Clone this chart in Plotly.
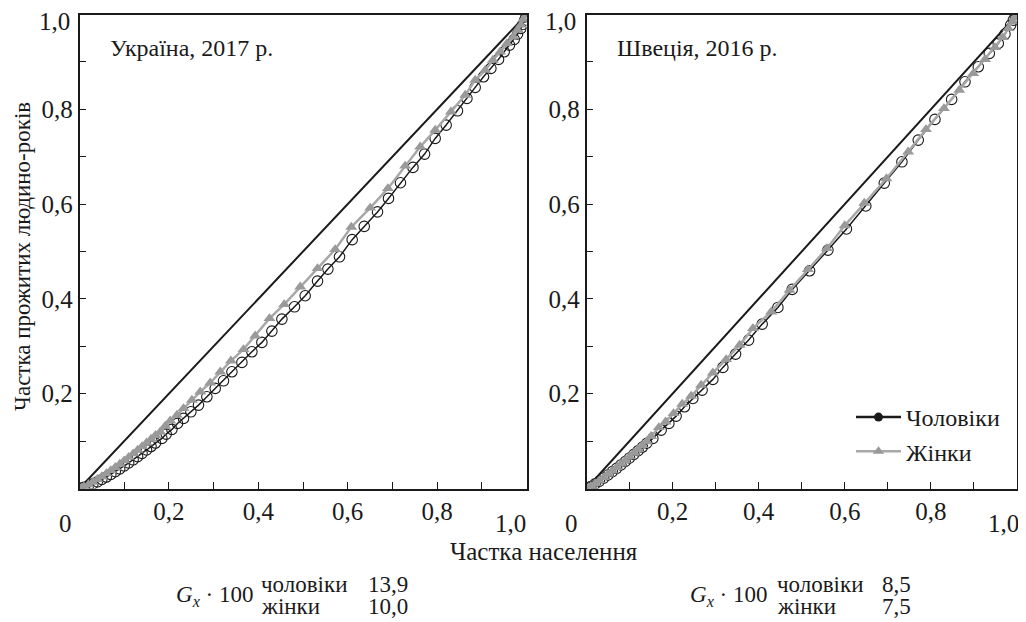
import plotly.graph_objects as go

# ---------------- data ----------------
ua_men_x = [0, 0.005, 0.01, 0.02, 0.03, 0.04, 0.05, 0.06, 0.07, 0.08, 0.09, 0.10, 0.11, 0.12, 0.13, 0.14, 0.15, 0.16, 0.17,
            0.1843, 0.194, 0.2067, 0.2192, 0.2327, 0.2492, 0.2662, 0.285, 0.3036, 0.3222, 0.341, 0.3633, 0.3857, 0.408,
            0.4304, 0.4528, 0.481, 0.5049, 0.5325, 0.5557, 0.5817, 0.61, 0.637, 0.6667, 0.6913, 0.718, 0.746, 0.772,
            0.7957, 0.8203, 0.8456, 0.8667, 0.8852, 0.9038, 0.9203, 0.9374, 0.9501, 0.962, 0.9725, 0.9799, 0.9875,
            0.992, 0.996, 0.999, 1.0]
ua_men_y = [0, 0.0009, 0.0023, 0.0057, 0.0097, 0.0141, 0.019, 0.0242, 0.0297, 0.0354, 0.0413, 0.0475, 0.0539, 0.0605, 0.0673, 0.0742, 0.0813, 0.0885, 0.0959,
            0.1057, 0.1148, 0.1247, 0.1373, 0.1479, 0.1618, 0.176, 0.1935, 0.2112, 0.2272, 0.2462, 0.266, 0.2884, 0.3082,
            0.3321, 0.3574, 0.3833, 0.4066, 0.4376, 0.4629, 0.4888, 0.525, 0.553, 0.5835, 0.612, 0.645, 0.6774, 0.7055,
            0.7386, 0.7667, 0.7968, 0.823, 0.8462, 0.8686, 0.8863, 0.9053, 0.9213, 0.9354, 0.9475, 0.9586, 0.9707,
            0.979, 0.988, 0.995, 1.0]

ua_women_x = [0, 0.005, 0.01, 0.02, 0.03, 0.04, 0.05, 0.06, 0.07, 0.08, 0.09, 0.10, 0.11, 0.12, 0.13, 0.14, 0.15, 0.16, 0.17,
              0.1805, 0.1917, 0.2029, 0.2179, 0.2327, 0.2514, 0.27, 0.2924, 0.3148, 0.3387, 0.3669, 0.393, 0.425, 0.458,
              0.4938, 0.5325, 0.572, 0.608, 0.6503, 0.69, 0.7286, 0.7622, 0.7957, 0.8309, 0.8629, 0.8852, 0.9076, 0.9248,
              0.9412, 0.9562, 0.9709, 0.9799, 0.9875, 0.9933, 1.0]
ua_women_y = [0, 0.0015, 0.0036, 0.0084, 0.0136, 0.0193, 0.0252, 0.0315, 0.038, 0.0447, 0.0516, 0.0588, 0.066, 0.0735, 0.081, 0.0887, 0.0965, 0.1043, 0.1122,
              0.1196, 0.1316, 0.1428, 0.1549, 0.169, 0.1865, 0.204, 0.223, 0.2462, 0.2694, 0.2935, 0.3222, 0.3589, 0.3884,
              0.4255, 0.4643, 0.5044, 0.5515, 0.592, 0.633, 0.6805, 0.7209, 0.7561, 0.7947, 0.83, 0.8616, 0.8827, 0.9038,
              0.9213, 0.939, 0.953, 0.9671, 0.978, 0.99, 1.0]

se_men_x = [0, 0.005, 0.01, 0.02, 0.03, 0.04, 0.05, 0.06, 0.07, 0.08, 0.09, 0.10, 0.11, 0.12, 0.13, 0.14,
            0.1541, 0.1734, 0.1913, 0.2082, 0.2277, 0.247, 0.2686, 0.2935, 0.3168, 0.3463, 0.3765, 0.4081, 0.4446,
            0.4778, 0.5182, 0.5608, 0.6038, 0.6488, 0.6917, 0.7327, 0.7706, 0.8094, 0.8482, 0.8792, 0.9101, 0.9356,
            0.9565, 0.9721, 0.9853, 0.9914, 0.996, 1.0]
se_men_y = [0, 0.0019, 0.0042, 0.0097, 0.0156, 0.022, 0.0286, 0.0355, 0.0425, 0.0497, 0.057, 0.0645, 0.072, 0.0797, 0.0875, 0.0955,
            0.1057, 0.1232, 0.1373, 0.1527, 0.1724, 0.19, 0.2076, 0.2302, 0.2555, 0.2835, 0.3131, 0.3468, 0.382,
            0.42, 0.4593, 0.503, 0.5476, 0.596, 0.6443, 0.6892, 0.735, 0.7787, 0.8209, 0.858, 0.8897, 0.9179,
            0.939, 0.9586, 0.9776, 0.988, 0.995, 1.0]

se_women_x = [0, 0.005, 0.01, 0.02, 0.03, 0.04, 0.05, 0.06, 0.07, 0.08, 0.09, 0.10, 0.11, 0.12, 0.13, 0.14,
              0.1501, 0.168, 0.1836, 0.2022, 0.2222, 0.2431, 0.2663, 0.2935, 0.3244, 0.3556, 0.3865, 0.429, 0.4718,
              0.5143, 0.5585, 0.5998, 0.6453, 0.6968, 0.7471, 0.7885, 0.8303, 0.8659, 0.8984, 0.9256, 0.9489, 0.9668,
              0.9798, 0.99, 0.996, 1.0]
se_women_y = [0, 0.0021, 0.0047, 0.0106, 0.0168, 0.0234, 0.0302, 0.0372, 0.0444, 0.0518, 0.0593, 0.067, 0.0748, 0.0828, 0.0908, 0.099,
              0.1100, 0.1289, 0.1407, 0.1584, 0.1781, 0.1949, 0.2181, 0.2441, 0.2724, 0.3025, 0.3378, 0.3728, 0.4186,
              0.4622, 0.5065, 0.5547, 0.6021, 0.654, 0.7103, 0.7576, 0.8019, 0.8405, 0.8757, 0.9053, 0.9306, 0.9517,
              0.9707, 0.985, 0.994, 1.0]

equality_x = [0, 1]
equality_y = [0, 1]

panel_titles = ["Україна, 2017 р.", "Швеція, 2016 р."]
series_names = ["Чоловіки", "Жінки"]
gini_values = [["13,9", "10,0"], ["8,5", "7,5"]]
gini_labels = ["чоловіки", "жінки"]

x_tick_vals = [0.1, 0.2, 0.3, 0.4, 0.5, 0.6, 0.7, 0.8, 0.9]
x_tick_text = ["", "0,2", "", "0,4", "", "0,6", "", "0,8", ""]
x_edge_labels = ["0", "1,0"]
y_tick_vals = [0.1, 0.2, 0.3, 0.4, 0.5, 0.6, 0.7, 0.8, 0.9]
y_tick_text = ["", "0,2", "", "0,4", "", "0,6", "", "0,8", ""]
y_edge_label = "1,0"

# ---------------- style ----------------
FONT = "Liberation Serif"
OFF = 8                      # page body margin
W, H = 1026 - OFF, 622 - OFF
BLACK = "#1a1a1a"
GRAY_LINE = "#a8a8a8"
GRAY_MARK = "#9a9a9a"

# pixel geometry of panels (screen pixels)
L1, R1 = 79.5, 526.5
L2, R2 = 586.5, 1017
TOP, BOT = 14.5, 488.5


def px(x):
    return (x - OFF) / W


def py(y):
    return 1 - (y - OFF) / H


fig = go.Figure()

panels = [
    ("x", "y", ua_men_x, ua_men_y, ua_women_x, ua_women_y),
    ("x2", "y2", se_men_x, se_men_y, se_women_x, se_women_y),
]
for xa, ya, mx, my, wx, wy in panels:
    fig.add_trace(go.Scatter(x=equality_x, y=equality_y, xaxis=xa, yaxis=ya, mode="lines",
                             line=dict(color=BLACK, width=2), showlegend=False, hoverinfo="skip"))
    fig.add_trace(go.Scatter(x=mx, y=my, xaxis=xa, yaxis=ya, mode="lines+markers",
                             line=dict(color=BLACK, width=1.5),
                             marker=dict(symbol="circle-open", size=10.5, color=BLACK, line=dict(width=1.1)),
                             showlegend=False))
    fig.add_trace(go.Scatter(x=wx, y=wy, xaxis=xa, yaxis=ya, mode="lines+markers",
                             line=dict(color=GRAY_LINE, width=2.5),
                             marker=dict(symbol="triangle-up", size=10.5, color=GRAY_MARK),
                             showlegend=False))

# legend-only traces
fig.add_trace(go.Scatter(x=[None], y=[None], xaxis="x2", yaxis="y2", mode="lines+markers", name=series_names[0],
                         line=dict(color=BLACK, width=2.5), marker=dict(symbol="circle", size=9, color=BLACK)))
fig.add_trace(go.Scatter(x=[None], y=[None], xaxis="x2", yaxis="y2", mode="lines+markers", name=series_names[1],
                         line=dict(color=GRAY_LINE, width=2.5), marker=dict(symbol="triangle-up", size=10, color=GRAY_MARK)))

axis_common = dict(range=[0, 1], showline=True, linecolor=BLACK, linewidth=1.5, mirror=True, automargin=False,
                   ticks="inside", ticklen=7, tickcolor=BLACK, tickwidth=1.2, showgrid=False, zeroline=False,
                   tickfont=dict(family=FONT, size=25, color=BLACK))

ydom = [py(BOT), py(TOP)]
fig.update_layout(
    width=W, height=H,
    margin=dict(l=0, r=0, t=0, b=0, autoexpand=False),
    paper_bgcolor="white", plot_bgcolor="white",
    font=dict(family=FONT, size=24, color=BLACK),
    xaxis=dict(domain=[px(L1), px(R1)], anchor="y", tickvals=x_tick_vals, ticktext=x_tick_text, **axis_common),
    yaxis=dict(domain=ydom, anchor="x", tickvals=y_tick_vals, ticktext=y_tick_text, **axis_common),
    xaxis2=dict(domain=[px(L2), px(R2)], anchor="y2", tickvals=x_tick_vals, ticktext=x_tick_text, **axis_common),
    yaxis2=dict(domain=ydom, anchor="x2", tickvals=y_tick_vals, ticktext=y_tick_text, **axis_common),
    legend=dict(x=px(851), y=py(395), xanchor="left", yanchor="top",
                font=dict(family=FONT, size=24, color=BLACK), bgcolor="rgba(0,0,0,0)",
                itemwidth=45, tracegroupgap=0),
    showlegend=True,
)

ann = []


def txt(x, y, text, size=25, xanchor="center", angle=0):
    return dict(x=px(x), y=py(y), xref="paper", yref="paper", text=text, showarrow=False,
                xanchor=xanchor, yanchor="middle", textangle=angle,
                font=dict(family=FONT, size=size, color=BLACK))


# edge tick labels on x axes and top y label
for x0, x1, ylab in ((65, 510, 54), (571, 1003, 560)):
    ann.append(txt(x0, 523, x_edge_labels[0]))
    ann.append(txt(x1, 523, x_edge_labels[1]))
    ann.append(txt(ylab, 21, y_edge_label))
# panel titles
for x0, t in ((108, panel_titles[0]), (615, panel_titles[1])):
    ann.append(txt(x0, 48, t, size=24, xanchor="left"))
# axis titles
ann.append(txt(23, 257, "Частка прожитих людино-років", size=23, angle=-90))
ann.append(txt(544, 551, "Частка населення", size=25))
# Gini annotations
for gx_left, lab_left, val_left, vals in ((174, 259, 366, gini_values[0]), (688, 775, 880, gini_values[1])):
    ann.append(txt(gx_left, 596, "<i>G</i><sub><i>x</i></sub> · 100", size=23, xanchor="left"))
    for i, yy in enumerate((584, 606)):
        ann.append(txt(lab_left, yy, gini_labels[i], size=23, xanchor="left"))
        ann.append(txt(val_left, yy, vals[i], size=23, xanchor="left"))
fig.update_layout(annotations=ann)

fig.write_html("out.html")
